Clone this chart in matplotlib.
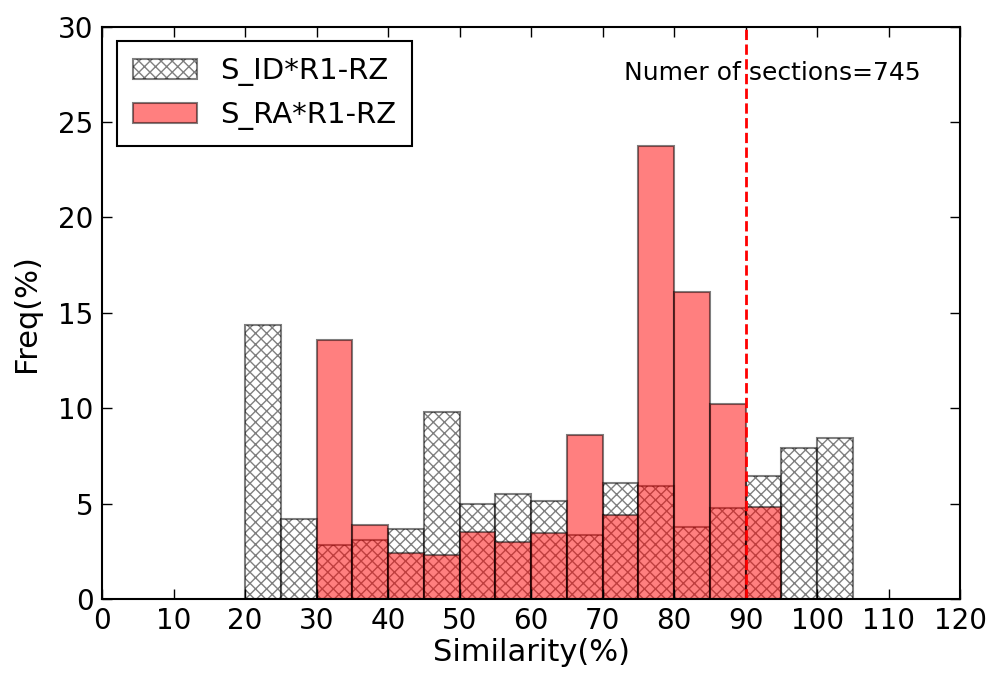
import matplotlib
matplotlib.use("Agg")
import matplotlib.pyplot as plt

# bin left edges (width 5) and frequencies in percent
bins = [20, 25, 30, 35, 40, 45, 50, 55, 60, 65, 70, 75, 80, 85, 90, 95, 100]
s_id = [14.35, 4.17, 2.83, 3.1, 3.64, 9.79, 4.97, 5.51, 5.11, 3.36, 6.05, 5.91, 3.79, 4.75, 6.45, 7.91, 8.43]
s_ra = [0, 0, 13.6, 3.9, 2.4, 2.3, 3.51, 2.96, 3.48, 8.57, 4.4, 23.75, 16.07, 10.2, 4.84, 0, 0]

plt.rcParams['hatch.linewidth'] = 1.0
fig, ax = plt.subplots(figsize=(9.95, 6.86), dpi=100)
fig.subplots_adjust(left=0.1025, right=0.965, top=0.961, bottom=0.127)

ax.bar(bins, s_id, width=5, align='edge', color='white', edgecolor='black',
       hatch='xxx', alpha=0.5, linewidth=1.5, label='S_ID*R1-RZ')
ra_bins = [b for b, v in zip(bins, s_ra) if v > 0]
ra_vals = [v for v in s_ra if v > 0]
ax.bar(ra_bins, ra_vals, width=5, align='edge', color='red', edgecolor='black',
       alpha=0.5, linewidth=1.5, label='S_RA*R1-RZ')
ax.axvline(90, color='red', linestyle='--', linewidth=2)
ax.text(93.8, 27.6, 'Numer of sections=745', ha='center', va='center', fontsize=18)

ax.set_xlim(0, 120)
ax.set_ylim(0, 30)
ax.set_xticks(range(0, 121, 10))
ax.set_yticks(range(0, 31, 5))
ax.tick_params(direction='in', top=True, right=True, labelsize=20, length=7, width=1, pad=6)
ax.set_xlabel('Similarity(%)', fontsize=22, labelpad=2)
ax.set_ylabel('Freq(%)', fontsize=22, labelpad=12)
for s in ax.spines.values():
    s.set_linewidth(1.5)
leg = ax.legend(loc='upper left', fontsize=21, fancybox=False, edgecolor='black',
                framealpha=1, borderaxespad=0.5, handlelength=2.2, handletextpad=0.8,
                borderpad=0.55)
leg.get_frame().set_linewidth(1.5)

fig.savefig('out.png')
